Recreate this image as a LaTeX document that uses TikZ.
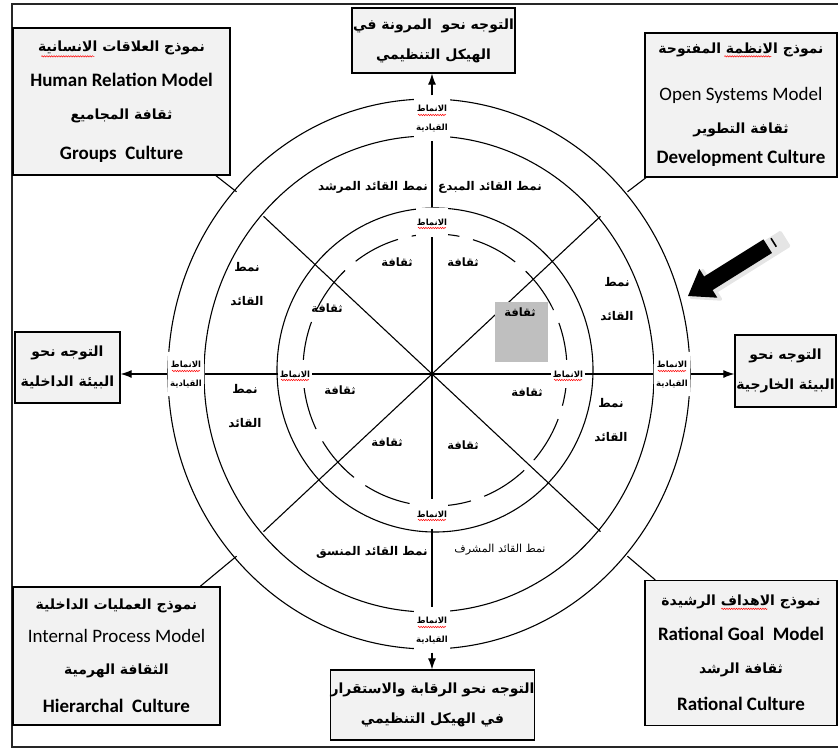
\documentclass[tikz,border=0pt]{standalone}
\usepackage{fontspec}
\usetikzlibrary{positioning,arrows.meta,decorations.pathmorphing}
\TeXXeTstate=1
\newfontfamily\arabicfont[Script=Arabic]{DejaVu Sans}
\newfontfamily\latinfont{Carlito}
\newcommand{\ar}[1]{{\arabicfont\beginR #1\endR}}
\newcommand{\en}[1]{{\latinfont\fontsize{19}{30}\selectfont #1}}

\tikzset{
  box/.style={draw, line width=1.3pt, fill=gray!10, inner sep=0pt, align=center,
    font=\bfseries\fontsize{14}{30}\selectfont},
  inlbl/.style={fill=white, inner sep=1pt, minimum height=28pt,
    font=\bfseries\fontsize{8.5}{10}\selectfont},
  outlbl/.style={fill=white, inner sep=1pt, minimum height=44pt, minimum width=36pt,
    align=center, font=\bfseries\fontsize{8.5}{19}\selectfont},
  culture/.style={font=\bfseries\fontsize{11.5}{13}\selectfont},
  lead/.style={align=center, font=\bfseries\fontsize{12}{34}\selectfont},
  ring/.style={line width=1.1pt},
  spell/.style={draw=red, line width=0.5pt, decorate,
    decoration={snake, amplitude=0.7pt, segment length=2.4pt}},
}

\begin{document}
\begin{tikzpicture}[x=1pt, y=1pt, line width=1.1pt, >={Latex[length=11pt,width=8pt]}]
\useasboundingbox (-432,-379) rectangle (406,374);
\draw[line width=1.2pt, black!85] (410,370) -- (-420,370) -- (-420,-373) -- (410,-373);

% rings
\draw[ring] (-3,0) ellipse [x radius=261, y radius=275];
\draw[ring] (-3,0) ellipse [x radius=225, y radius=238];
\draw[ring] (3,4) ellipse [x radius=158, y radius=162];
\draw[ring, dash pattern=on 48pt off 14pt] (3,4) ellipse [x radius=132, y radius=136];

\coordinate (O) at (0,0);
\coordinate (dNE) at (41.5:225 and 238);
\coordinate (dNW) at (138.5:225 and 238);
\coordinate (dSW) at (221.5:225 and 238);
\coordinate (dSE) at (318.5:225 and 238);
\coordinate (eNE) at (41.5:261 and 275);
\coordinate (eNW) at (138.5:261 and 275);
\coordinate (eSW) at (221.5:261 and 275);
\coordinate (eSE) at (318.5:261 and 275);

% labels on the rings
\node[inlbl] (iT) at (0,152) {\ar{الانماط}};
\node[inlbl] (iB) at (0,-140) {\ar{الانماط}};
\node[inlbl] (iL) at (-137,0) {\ar{الانماط}};
\node[inlbl] (iR) at (136,0) {\ar{الانماط}};
\node[outlbl] (oT) at (0,256) {\ar{الانماط}\\\ar{القيادية}};
\node[outlbl] (oB) at (0,-256) {\ar{الانماط}\\\ar{القيادية}};
\node[outlbl] (oL) at (-246,0) {\ar{الانماط}\\\ar{القيادية}};
\node[outlbl] (oR) at (240,0) {\ar{الانماط}\\\ar{القيادية}};

% boxes
\node[box, minimum width=163pt, minimum height=65pt] (bT) at (1.5,333.5)
  {\ar{التوجه نحو~ المرونة في}\\\ar{الهيكل التنظيمي}};
\node[box, minimum width=201pt, minimum height=70pt] (bB) at (0.5,-331)
  {\ar{التوجه نحو الرقابة والاستقرار}\\\ar{في الهيكل التنظيمي}};
\node[box, minimum width=105pt, minimum height=71pt] (bL) at (-364.5,6.5)
  {\ar{التوجه نحو}\\\ar{البيئة الداخلية}};
\node[box, minimum width=101pt, minimum height=72pt] (bR) at (353.5,3)
  {\ar{التوجه نحو}\\\ar{البيئة الخارجية}};
\node[box, minimum width=217pt, minimum height=147pt] (bNW) at (-310.5,272.5)
  {\ar{نموذج العلاقات الانسانية}\\[5pt]
   \en{Human Relation Model}\\[3pt]
   \ar{ثقافة المجاميع}\\[10pt]
   \en{Groups~ Culture}};
\node[box, minimum width=192pt, minimum height=144pt] (bNE) at (309,269)
  {\ar{نموذج الانظمة المفتوحة}\\[17pt]
   \en{\mdseries Open Systems Model}\\[3pt]
   \ar{ثقافة التطوير}\\
   \en{Development Culture}};
\node[box, minimum width=207pt, minimum height=138pt] (bSW) at (-315.5,-282)
  {\ar{نموذج العمليات الداخلية}\\[3pt]
   \en{\mdseries Internal Process Model}\\[2pt]
   \ar{الثقافة الهرمية}\\[8pt]
   \en{Hierarchal~ Culture}};
\node[box, minimum width=192pt, minimum height=145pt] (bSE) at (309,-279)
  {\ar{نموذج الاهداف الرشيدة}\\[5pt]
   \en{Rational Goal~ Model}\\[3pt]
   \ar{ثقافة الرشد}\\[7pt]
   \en{Rational Culture}};

% leader styles
\node[lead] (t1) at (-59,187) {\ar{نمط القائد المرشد}};
\node[lead] (t2) at (58,187) {\ar{نمط القائد المبدع}};
\node[lead] (u1) at (-60,-178) {\ar{نمط القائد المنسق}};
\node[lead, font=\mdseries\fontsize{11}{13}\selectfont] (u2) at (68,-176) {\ar{نمط القائد المشرف}};
\node[lead] (s1) at (-185,90) {\ar{نمط}\\\ar{القائد}};
\node[lead] (s2) at (-187,-32) {\ar{نمط}\\\ar{القائد}};
\node[lead] (s3) at (185,75) {\ar{نمط}\\\ar{القائد}};
\node[lead] (s4) at (179,-46) {\ar{نمط}\\\ar{القائد}};

% axes
\draw (O) -- (iT);
\draw (iT) -- (oT);
\draw[->] (oT) -- (oT |- bT.south);
\draw (O) -- (iB);
\draw (iB) -- (oB);
\draw[->] (oB) -- (oB |- bB.north);
\draw (O) -- (iL);
\draw (iL) -- (oL);
\draw[->] (oL) -- (oL -| bL.east);
\draw (O) -- (iR);
\draw (iR) -- (oR);
\draw[->] (oR) -- (oR -| bR.west);

% diagonals
\draw (O) -- (dNE);
\draw (O) -- (dNW);
\draw (O) -- (dSW);
\draw (O) -- (dSE);
\draw (eNE) -- (bNE);
\draw (eNW) -- (bNW);
\draw (eSW) -- (bSW);
\draw (eSE) -- (bSE);

% cultures
\fill[gray!50] (63,12) rectangle (116,72);
\node[culture] (c1) at (-35,112) {\ar{ثقافة}};
\node[culture] (c2) at (31,112) {\ar{ثقافة}};
\node[culture] (c3) at (-105,66) {\ar{ثقافة}};
\node[culture] (c4) at (88,62) {\ar{ثقافة}};
\node[culture] (c5) at (-92,-16) {\ar{ثقافة}};
\node[culture] (c6) at (95,-18) {\ar{ثقافة}};
\node[culture] (c7) at (-45,-68) {\ar{ثقافة}};
\node[culture] (c8) at (31,-71) {\ar{ثقافة}};

% spelling marks
\foreach \n in {iT,iB,iL,iR}
  \draw[spell] ([xshift=-14pt,yshift=-6pt]\n.center) -- ([xshift=14pt,yshift=-6pt]\n.center);
\foreach \n in {oT,oB,oL,oR}
  \draw[spell] ([xshift=-14pt,yshift=3pt]\n.center) -- ([xshift=14pt,yshift=3pt]\n.center);
\draw[spell] ([xshift=29pt,yshift=-29pt]bNW.north west) -- ([xshift=82pt,yshift=-29pt]bNW.north west);
\draw[spell] ([xshift=80pt,yshift=-24pt]bNE.north west) -- ([xshift=127pt,yshift=-24pt]bNE.north west);
\draw[spell] ([xshift=77pt,yshift=-29pt]bSE.north west) -- ([xshift=123pt,yshift=-29pt]bSE.north west);

% big arrow
\begin{scope}[shift={(256,78)}, rotate=32]
  \filldraw[gray!20, line width=3pt, line join=round] (2,-3) -- (26,14) -- (26,5) -- (112,5)
    -- (112,-11) -- (26,-11) -- (26,-20) -- cycle;
  \fill[black] (0,0) -- (24,17) -- (24,8) -- (94,8) -- (94,-8) -- (24,-8) -- (24,-17) -- cycle;
  \draw[line width=1.6pt] (101,-5) -- (101,5);
\end{scope}
\end{tikzpicture}
\end{document}
